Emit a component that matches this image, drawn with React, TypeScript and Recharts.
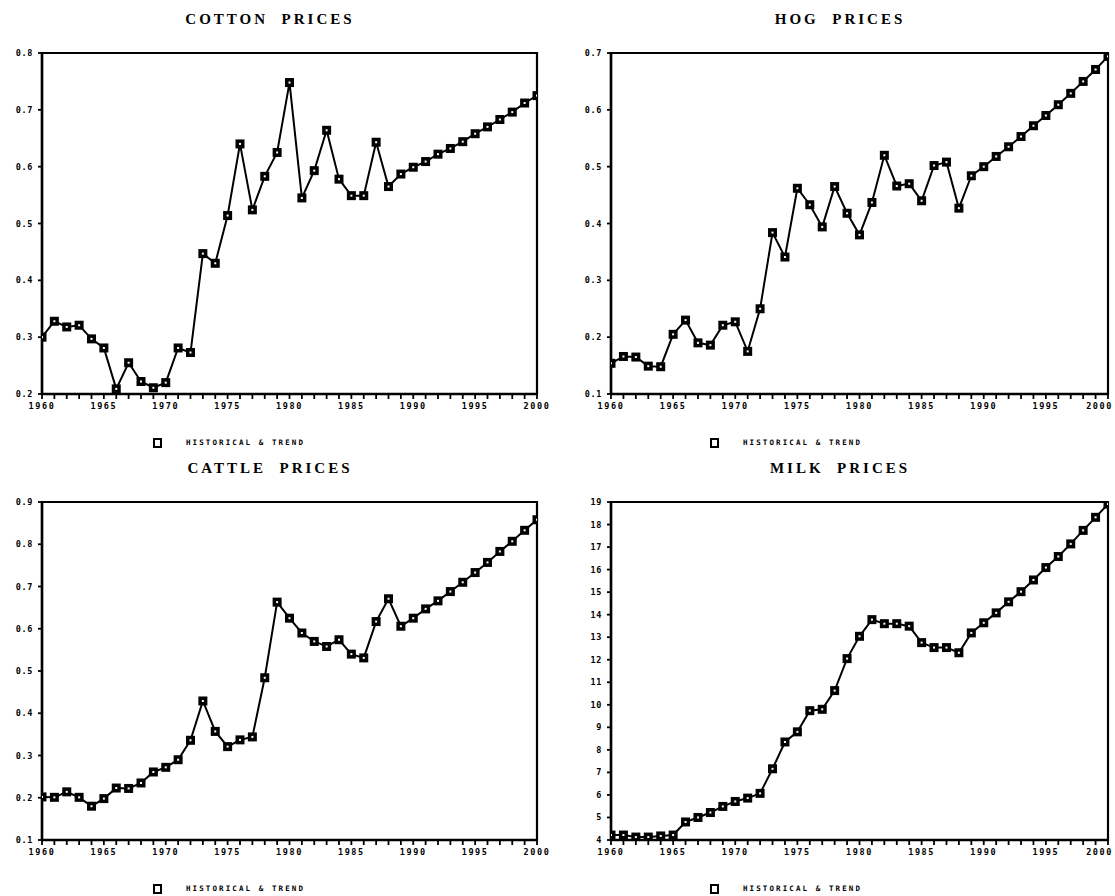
import { LineChart, Line, XAxis, YAxis, ReferenceArea } from "recharts";

// ── Data ──────────────────────────────────────────────────────────────────────

const YEARS = [
  1960, 1961, 1962, 1963, 1964, 1965, 1966, 1967, 1968, 1969,
  1970, 1971, 1972, 1973, 1974, 1975, 1976, 1977, 1978, 1979,
  1980, 1981, 1982, 1983, 1984, 1985, 1986, 1987, 1988, 1989,
  1990, 1991, 1992, 1993, 1994, 1995, 1996, 1997, 1998, 1999,
  2000,
];

const COTTON = [
  0.300, 0.328, 0.318, 0.321, 0.297, 0.281, 0.209, 0.255, 0.222, 0.211,
  0.220, 0.281, 0.273, 0.447, 0.430, 0.514, 0.640, 0.524, 0.583, 0.625,
  0.748, 0.545, 0.593, 0.664, 0.578, 0.549, 0.549, 0.643, 0.565, 0.587,
  0.599, 0.609, 0.622, 0.632, 0.644, 0.658, 0.670, 0.683, 0.696, 0.712,
  0.725,
];

const HOG = [
  0.154, 0.166, 0.165, 0.149, 0.148, 0.205, 0.230, 0.190, 0.186, 0.221,
  0.227, 0.175, 0.250, 0.384, 0.341, 0.462, 0.433, 0.394, 0.465, 0.418,
  0.380, 0.437, 0.520, 0.466, 0.470, 0.440, 0.502, 0.508, 0.427, 0.484,
  0.500, 0.518, 0.535, 0.553, 0.572, 0.590, 0.609, 0.629, 0.650, 0.671,
  0.694,
];

const CATTLE = [
  0.202, 0.201, 0.214, 0.201, 0.180, 0.198, 0.223, 0.222, 0.235, 0.261,
  0.272, 0.290, 0.336, 0.429, 0.357, 0.321, 0.337, 0.344, 0.484, 0.663,
  0.625, 0.590, 0.570, 0.558, 0.574, 0.540, 0.531, 0.617, 0.671, 0.606,
  0.625, 0.647, 0.666, 0.688, 0.710, 0.733, 0.757, 0.783, 0.807, 0.833,
  0.858,
];

const MILK = [
  4.22, 4.22, 4.13, 4.13, 4.18, 4.22, 4.80, 5.00, 5.22, 5.49,
  5.71, 5.86, 6.07, 7.16, 8.35, 8.80, 9.74, 9.80, 10.63, 12.05,
  13.04, 13.78, 13.60, 13.60, 13.49, 12.76, 12.54, 12.54, 12.31, 13.19,
  13.64, 14.08, 14.57, 15.02, 15.54, 16.09, 16.58, 17.14, 17.74, 18.32,
  18.91,
];

const COTTON_TICKS = [0.2, 0.3, 0.4, 0.5, 0.6, 0.7, 0.8];
const HOG_TICKS = [0.1, 0.2, 0.3, 0.4, 0.5, 0.6, 0.7];
const CATTLE_TICKS = [0.1, 0.2, 0.3, 0.4, 0.5, 0.6, 0.7, 0.8, 0.9];
const MILK_TICKS = [4, 5, 6, 7, 8, 9, 10, 11, 12, 13, 14, 15, 16, 17, 18, 19];

const LEGEND_LABEL = "HISTORICAL & TREND";

// ── Styling ──────────────────────────────────────────────────────────────────

const INK = "#000";
const TICK_FONT = "'DejaVu Sans Mono', monospace";
const TITLE_FONT = "'Liberation Serif', serif";

// ── Ticks / dots ─────────────────────────────────────────────────────────────

function makeYearTick(maxX: number) {
  return function YearTick({ x, y, payload }: any) {
    if (payload.value % 5 !== 0) return <g />;
    // keep the last label inside the picture (reference clips it at the edge)
    const tooFar = x + 13 > maxX;
    return (
      <text
        x={tooFar ? maxX : x}
        y={y}
        dy={6}
        textAnchor={tooFar ? "end" : "middle"}
        fill={INK}
        fontSize={8.5}
        fontWeight="bold"
        fontFamily={TICK_FONT}
        letterSpacing={1.6}
      >
        {payload.value}
      </text>
    );
  };
}

function makeValueTick(decimals: number) {
  return function ValueTick({ x, y, payload }: any) {
    return (
      <text
        x={x}
        y={y}
        dy={3}
        textAnchor="end"
        fill={INK}
        fontSize={8.5}
        fontWeight="bold"
        fontFamily={TICK_FONT}
        letterSpacing={0.6}
      >
        {Number(payload.value).toFixed(decimals)}
      </text>
    );
  };
}

function squareDot(props: any) {
  const { cx, cy, index } = props;
  if (cx == null || cy == null) return <g key={index} />;
  return (
    <g key={index}>
      <rect x={cx - 4.5} y={cy - 4.5} width={9} height={9} fill={INK} />
      <rect x={cx - 1} y={cy - 1} width={2} height={2} fill="#fff" />
    </g>
  );
}

// ── Panel ────────────────────────────────────────────────────────────────────

interface PanelProps {
  title: string;
  values: number[];
  ticks: number[];
  decimals: number;
  left: number;
  top: number;
  width: number;
  yAxisWidth: number;
  rightMargin: number;
  plotHeight: number;
  titleCenter: number;
}

function PricePanel(p: PanelProps) {
  const data = YEARS.map((year, i) => ({ year, value: p.values[i] }));
  const yMin = p.ticks[0];
  const yMax = p.ticks[p.ticks.length - 1];
  const chartHeight = 53 + p.plotHeight + 20 + 6;
  const ValueTick = makeValueTick(p.decimals);
  const YearTick = makeYearTick(p.width - 2);

  return (
    <>
      <div
        style={{
          position: "absolute",
          left: p.titleCenter - 150,
          top: p.top + 11,
          width: 300,
          textAlign: "center",
          fontFamily: TITLE_FONT,
          fontWeight: "bold",
          fontSize: 15,
          letterSpacing: 3,
          color: INK,
          whiteSpace: "pre",
        }}
      >
        {p.title.replace(" ", "  ")}
      </div>

      <div style={{ position: "absolute", left: p.left, top: p.top }}>
        <LineChart
          width={p.width}
          height={chartHeight}
          data={data}
          margin={{ top: 53, right: p.rightMargin, bottom: 6, left: 0 }}
        >
          <XAxis
            dataKey="year"
            type="number"
            domain={[1960, 2000]}
            ticks={YEARS}
            interval={0}
            tick={<YearTick />}
            tickSize={5}
            tickMargin={4}
            height={20}
            axisLine={{ stroke: INK, strokeWidth: 2.5 }}
            tickLine={{ stroke: INK, strokeWidth: 1.8 }}
            allowDataOverflow
          />
          <YAxis
            type="number"
            domain={[yMin, yMax]}
            ticks={p.ticks}
            interval={0}
            tick={<ValueTick />}
            tickSize={4}
            tickMargin={5}
            width={p.yAxisWidth}
            axisLine={{ stroke: INK, strokeWidth: 2.5 }}
            tickLine={{ stroke: INK, strokeWidth: 1.8 }}
            allowDataOverflow
          />
          <ReferenceArea
            x1={1960}
            x2={2000}
            y1={yMin}
            y2={yMax}
            fill="none"
            stroke={INK}
            strokeWidth={2.2}
            ifOverflow="visible"
          />
          <Line
            type="linear"
            dataKey="value"
            stroke={INK}
            strokeWidth={2}
            dot={squareDot}
            activeDot={false}
            isAnimationActive={false}
          />
        </LineChart>
      </div>

      {/* Legend */}
      <div
        style={{
          position: "absolute",
          left: p.left + 153,
          top: p.top + 53 + p.plotHeight + 44,
          width: 5,
          height: 6,
          border: `2.5px solid ${INK}`,
          background: "#fff",
        }}
      />
      <div
        style={{
          position: "absolute",
          left: p.left + 186,
          top: p.top + 53 + p.plotHeight + 44,
          fontFamily: TICK_FONT,
          fontWeight: "bold",
          fontSize: 7.5,
          letterSpacing: 2.1,
          color: INK,
          whiteSpace: "pre",
        }}
      >
        {LEGEND_LABEL}
      </div>
    </>
  );
}

// ── App ──────────────────────────────────────────────────────────────────────

export default function App() {
  return (
    <div
      style={{
        position: "absolute",
        left: 0,
        top: 0,
        width: 1115,
        height: 896,
        background: "#fff",
        overflow: "hidden",
      }}
    >
      <PricePanel
        title="COTTON PRICES"
        values={COTTON}
        ticks={COTTON_TICKS}
        decimals={1}
        left={0}
        top={0}
        width={557}
        yAxisWidth={42}
        rightMargin={20}
        plotHeight={341}
        titleCenter={270}
      />
      <PricePanel
        title="HOG PRICES"
        values={HOG}
        ticks={HOG_TICKS}
        decimals={1}
        left={557}
        top={0}
        width={558}
        yAxisWidth={54}
        rightMargin={7}
        plotHeight={341}
        titleCenter={840}
      />
      <PricePanel
        title="CATTLE PRICES"
        values={CATTLE}
        ticks={CATTLE_TICKS}
        decimals={1}
        left={0}
        top={449}
        width={557}
        yAxisWidth={42}
        rightMargin={20}
        plotHeight={338}
        titleCenter={270}
      />
      <PricePanel
        title="MILK PRICES"
        values={MILK}
        ticks={MILK_TICKS}
        decimals={0}
        left={557}
        top={449}
        width={558}
        yAxisWidth={54}
        rightMargin={7}
        plotHeight={338}
        titleCenter={840}
      />
    </div>
  );
}
